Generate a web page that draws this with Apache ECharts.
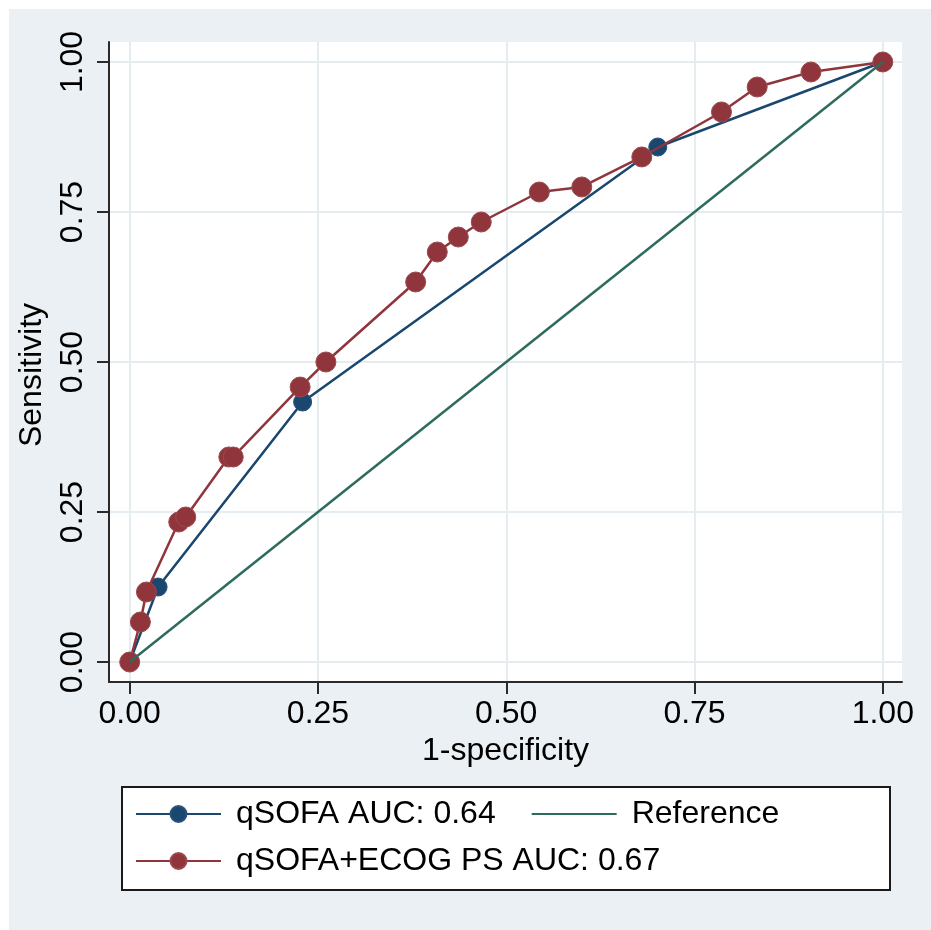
<!DOCTYPE html>
<html>
<head>
<meta charset="utf-8">
<script src="https://cdn.jsdelivr.net/npm/echarts@6/dist/echarts.min.js"></script>
<style>
html,body{margin:0;padding:0;background:#fff;}
#chart{width:931px;height:930px;}
</style>
</head>
<body>
<div id="chart"></div>
<script>
// ---- data ----
const tickValues = [0, 0.25, 0.5, 0.75, 1];
const qsofaX = [0, 0.0377, 0.2296, 0.7012, 1];
const qsofaY = [0, 0.125, 0.4333, 0.8583, 1];
const comboX = [0, 0.0142, 0.0222, 0.0651, 0.0744, 0.1316, 0.1375, 0.2263, 0.2605, 0.3797, 0.4084, 0.4363, 0.4668, 0.5439, 0.6003, 0.6800, 0.7858, 0.8332, 0.9046, 1];
const comboY = [0, 0.0667, 0.1167, 0.2333, 0.2417, 0.3417, 0.3417, 0.4583, 0.5000, 0.6333, 0.6833, 0.7083, 0.7333, 0.7833, 0.7917, 0.8417, 0.9167, 0.9583, 0.9833, 1];
const refX = [0, 1];
const refY = [0, 1];
const seriesNames = ['qSOFA AUC: 0.64', 'qSOFA+ECOG PS AUC: 0.67', 'Reference'];
const xTitle = '1-specificity';
const yTitle = 'Sensitivity';

const zip = (xs, ys) => xs.map((x, i) => [x, ys[i]]);
const FONT = "'Liberation Sans', Arial, Helvetica, sans-serif";
const NAVY = '#1a476f', MAROON = '#90353b', TEAL = '#2e6b5f';
const BG = '#eaf0f3', GRIDC = '#e6edf0';
const FS = 32;

const chart = echarts.init(document.getElementById('chart'), null, {renderer: 'canvas'});
const fmt = v => Number(v).toFixed(2);

chart.setOption({
  backgroundColor: '#ffffff',
  animation: false,
  textStyle: {fontFamily: FONT},
  graphic: [
    {type: 'rect', z: -100, silent: true, shape: {x: 9, y: 9, width: 922, height: 921}, style: {fill: BG}},
    {type: 'rect', z: 1, silent: true, shape: {x: 122, y: 787, width: 768, height: 103}, style: {fill: '#fff', stroke: '#1a1a1a', lineWidth: 2}}
  ],
  grid: {
    left: 109, right: 29, top: 42, bottom: 248,
    show: true, backgroundColor: '#ffffff', borderWidth: 0, containLabel: false
  },
  xAxis: {
    type: 'value', min: -0.0275, max: 1.0255,
    name: xTitle, nameLocation: 'middle', nameGap: 50,
    nameTextStyle: {fontSize: FS, color: '#000', fontFamily: FONT},
    axisLine: {show: true, onZero: false, lineStyle: {color: '#2a2a2a', width: 2}},
    axisTick: {show: true, length: 12, customValues: tickValues, lineStyle: {color: '#2a2a2a', width: 2}},
    axisLabel: {customValues: tickValues, formatter: fmt, fontSize: FS, color: '#000', margin: 16, fontFamily: FONT},
    splitLine: {show: true, lineStyle: {color: GRIDC, width: 2}}
  },
  yAxis: {
    type: 'value', min: -0.0333, max: 1.0333,
    name: yTitle, nameLocation: 'middle', nameGap: 61, nameRotate: 90,
    nameTextStyle: {fontSize: FS, color: '#000', fontFamily: FONT, padding: [0, 26, 0, 0]},
    axisLine: {show: true, onZero: false, lineStyle: {color: '#2a2a2a', width: 2}},
    axisTick: {show: true, length: 12, customValues: tickValues, lineStyle: {color: '#2a2a2a', width: 2}},
    axisLabel: {customValues: tickValues, formatter: fmt, fontSize: FS, color: '#000', margin: 20, rotate: 90, fontFamily: FONT},
    splitLine: {show: true, lineStyle: {color: GRIDC, width: 2}}
  },
  legend: [
    {
      data: [seriesNames[0], {name: seriesNames[2], itemStyle: {color: 'transparent', borderColor: 'transparent', borderWidth: 0}}],
      left: 135, top: 798, padding: 0, itemGap: 35, itemWidth: 85, itemHeight: 20, z: 5,
      textStyle: {fontSize: FS, color: '#000', fontFamily: FONT, padding: [0, 0, 0, 10]},
      selectedMode: false
    },
    {
      data: [seriesNames[1]],
      left: 135, top: 845, padding: 0, itemGap: 35, itemWidth: 85, itemHeight: 20, z: 5,
      textStyle: {fontSize: FS, color: '#000', fontFamily: FONT, padding: [0, 0, 0, 10]},
      selectedMode: false
    }
  ],
  series: [
    {
      name: seriesNames[0], type: 'line', data: zip(qsofaX, qsofaY),
      symbol: 'circle', symbolSize: 18, showSymbol: true,
      lineStyle: {color: NAVY, width: 2.5}, itemStyle: {color: NAVY, borderColor: '#2a527a', borderWidth: 1},
      z: 2
    },
    {
      name: seriesNames[1], type: 'line', data: zip(comboX, comboY),
      symbol: 'circle', symbolSize: 20, showSymbol: true,
      lineStyle: {color: MAROON, width: 2.5}, itemStyle: {color: MAROON, borderColor: '#9a4a4f', borderWidth: 1},
      z: 3
    },
    {
      name: seriesNames[2], type: 'line', data: zip(refX, refY),
      symbol: 'none', showSymbol: false,
      lineStyle: {color: TEAL, width: 2.5}, itemStyle: {color: TEAL},
      z: 4
    }
  ]
});
</script>
</body>
</html>
